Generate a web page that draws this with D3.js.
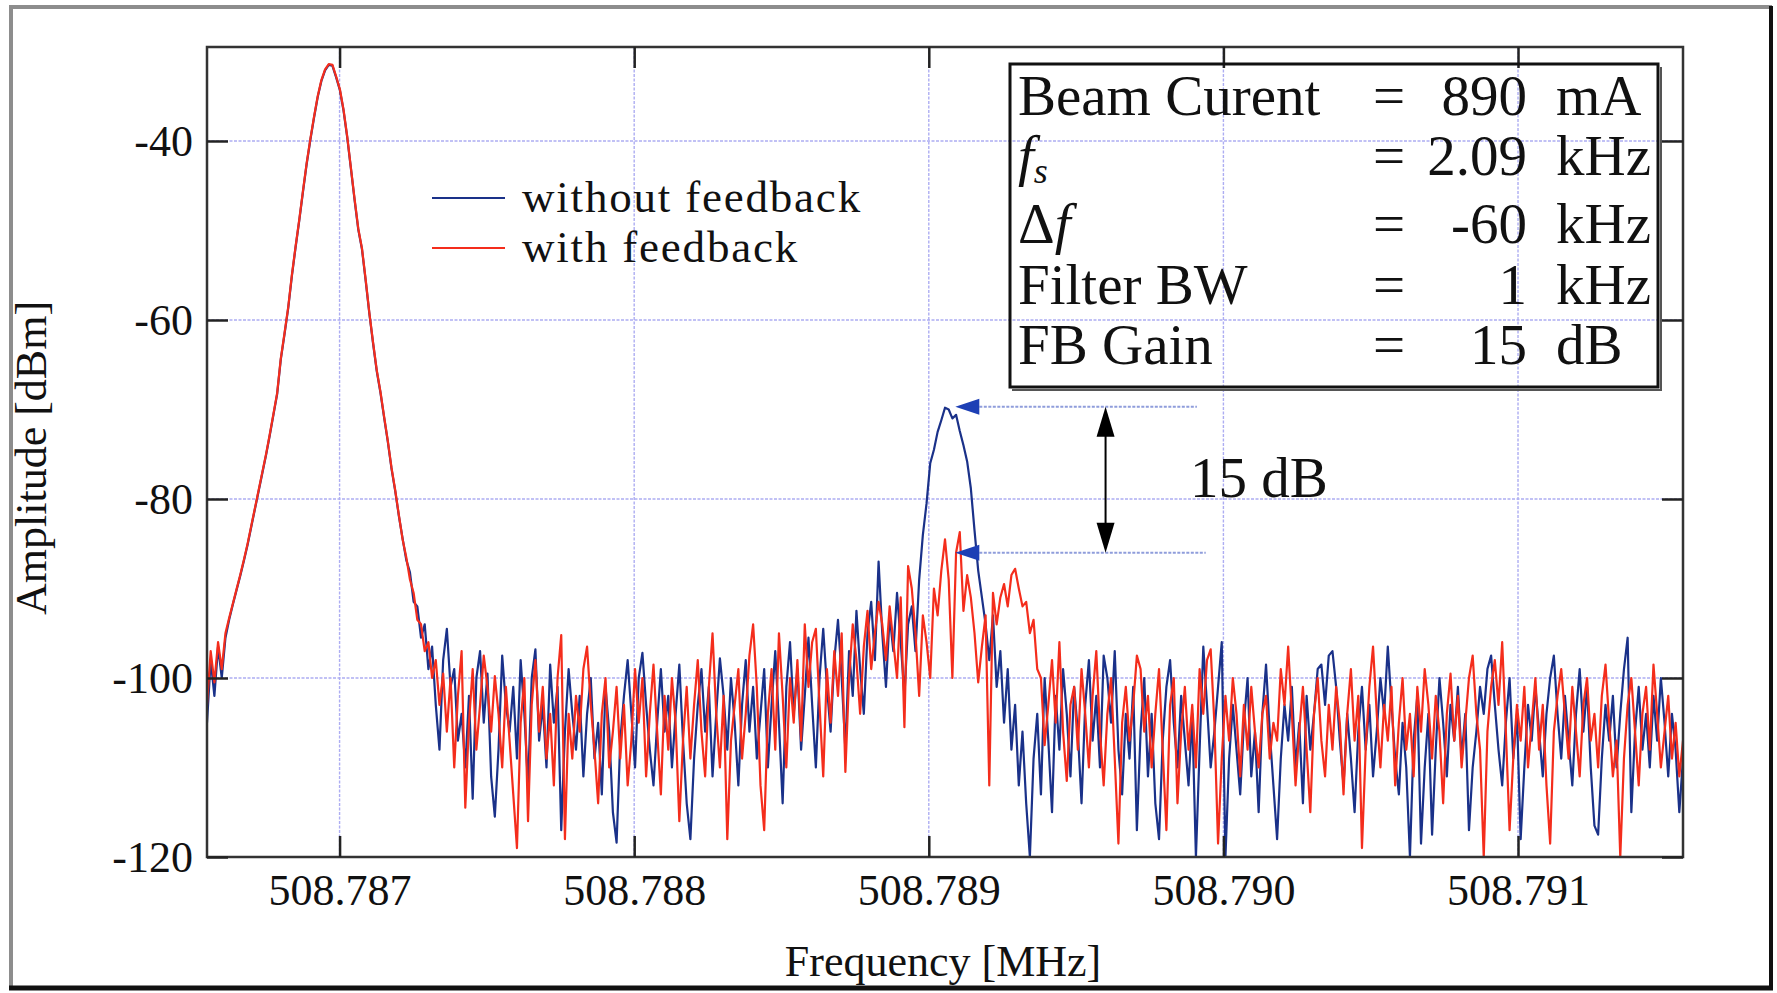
<!DOCTYPE html>
<html>
<head>
<meta charset="utf-8">
<script src="https://cdn.jsdelivr.net/npm/d3@7"></script>
<style>
body { margin: 0; background: #fff; }
svg { display: block; }
text { font-family: "Liberation Serif", "Times New Roman", serif; fill: #111; }
</style>
</head>
<body>
<svg id="graph"></svg>
<script>
const width = 1777;
const height = 993;

// analyser sweep (MHz), 401 points
const sweepStart = 508.78655;
const sweepStop = 508.79156;

const xTicks = [508.787, 508.788, 508.789, 508.790, 508.791];
const xTickLabels = ["508.787", "508.788", "508.789", "508.790", "508.791"];
const yTicks = [-120, -100, -80, -60, -40];
const yTickLabels = ["-120", "-100", "-80", "-60", "-40"];

const seriesNames = ["without feedback", "with feedback"];
const seriesColors = ["#1a3189", "#f42d1c"];

// amplitude [dBm], 10 per row
const withoutFeedback = [
  -105, -98, -102, -96.5, -100, -95.5, -93.5, -91.8, -90.2, -88.6,
  -86.9, -85.1, -83.1, -81.1, -79.1, -77.1, -75.1, -72.9, -70.6, -68.3,
  -64.4, -61.6, -58.7, -55.1, -51.9, -48.9, -45.7, -42.6, -39.9, -37.4,
  -35.1, -33.3, -32.1, -31.5, -31.6, -32.9, -34.3, -36.6, -39.6, -43.1,
  -46.6, -49.9, -52.1, -55.6, -59.3, -62.6, -65.7, -68.1, -70.9, -73.6,
  -76.6, -79.1, -81.9, -84.4, -86.8, -88.2, -91.5, -92.0, -95.5, -94.0,
  -99.0, -96.5, -103, -108, -98, -94.5, -101, -99, -107, -104,
  -110, -102, -113.5, -100, -97, -105, -99.5, -111, -115.5, -108,
  -97.5, -103, -106, -101, -109, -98, -104, -112, -100, -96.8,
  -107, -103, -110, -98.5, -105, -101, -117, -106, -99, -104,
  -108, -102, -111, -104, -100, -109, -105, -113, -101, -106,
  -115, -118.4, -107, -102, -98, -104, -110, -100, -97.2, -103,
  -108, -112, -105, -99, -106, -102, -110, -104, -98.5, -107,
  -114, -118, -109, -103, -99, -106, -101, -111, -104, -97.8,
  -102, -108, -100, -105, -112, -103, -98, -106, -101, -109,
  -104, -99, -110, -103, -97, -105, -114, -101, -96, -104,
  -99, -108, -102, -95.5, -103, -110, -100, -94.5, -101, -106,
  -98, -93.5, -100, -108, -97, -102, -92.5, -99, -104, -95,
  -91.5, -98, -87, -95, -101, -93, -97, -90.5, -96, -102,
  -94, -92, -97, -89, -84, -80.5, -76, -74.5, -72.5, -71.2,
  -69.8, -70.0, -71.0, -70.6, -72.4, -74.0, -75.8, -78.8, -83.5, -88,
  -91, -94, -98, -93, -101, -97, -105, -99, -108, -103,
  -112, -106, -114, -120, -109, -104, -113, -100, -107, -115,
  -102, -108, -99, -104, -111, -101, -106, -114, -103, -98,
  -107, -102, -110, -97.5, -100, -105, -97, -108, -113, -104,
  -109, -101, -117, -106, -100, -111, -104, -114, -118, -107,
  -101, -98, -105, -110, -102, -107, -112, -104, -120, -108,
  -96.5, -103, -110, -106, -101, -96, -120, -109, -103, -108,
  -113, -105, -100, -111, -106, -115, -104, -98.5, -106, -112,
  -118, -109, -103, -107, -101, -110, -105, -114, -102, -108,
  -104, -99, -98.5, -103, -97.5, -97, -101, -107, -112, -104,
  -109, -115, -106, -101, -108, -103, -111, -106, -100, -104,
  -96.5, -103, -109, -113, -105, -110, -120, -107, -102, -118.5,
  -110, -104, -117.5, -108, -100, -105, -111, -103, -107, -101,
  -109, -104, -117, -110, -106, -101, -104, -99, -97.5, -103,
  -108, -112, -105, -100, -109, -104, -118, -110, -103, -107,
  -101, -106, -111, -104, -100, -97.5, -104, -109, -102, -107,
  -112, -104, -99, -106, -101, -110, -116.5, -117.5, -109, -103,
  -107, -102, -110, -104, -99, -95.5, -115, -106, -101, -108,
  -104, -110, -102, -107, -100, -105, -111, -104, -108, -115,
  -109
];

const withFeedback = [
  -103, -97, -100.5, -96, -99, -95, -93.3, -91.7, -90.1, -88.5,
  -86.8, -85, -83, -81, -79, -77, -75, -72.8, -70.5, -68.2,
  -64.3, -61.5, -58.6, -55, -51.8, -48.8, -45.6, -42.5, -39.8, -37.3,
  -35, -33.2, -32, -31.4, -31.5, -32.8, -34.2, -36.5, -39.5, -43,
  -46.5, -49.8, -52, -55.5, -59.2, -62.5, -65.6, -68, -70.8, -73.5,
  -76.5, -79, -81.8, -84.5, -86.5, -89, -90.5, -93.5, -94, -97,
  -96, -100, -98, -103, -99.5, -106, -100, -110, -102, -97,
  -114.5, -105, -99, -108, -103, -97.5, -101, -106, -99.8, -104,
  -110, -101, -107, -113, -119, -105, -100, -116, -103, -98,
  -106, -101, -109, -104, -112, -100, -95.2, -118, -104, -109,
  -102, -106, -99, -96.5, -103, -108, -114, -104, -100, -110,
  -106, -101, -109, -103, -112, -107, -99, -105, -100, -111,
  -104, -98.5, -106, -113, -102, -108, -100, -105, -116, -107,
  -101, -109, -103, -98, -106, -111, -101, -95, -104, -110,
  -102, -118, -107, -103, -99, -109, -104, -97.5, -94, -101,
  -112, -117, -104, -99, -108, -95, -102, -110, -100, -105,
  -98, -107, -94, -101, -96, -94.5, -103, -111, -99, -105,
  -97, -102, -95, -110.5, -100, -94, -98, -104, -96.5, -92.5,
  -99, -95, -91.5, -94, -98, -92, -96, -100, -91, -105.5,
  -87.5, -90, -95, -102, -93, -96, -100, -90, -93, -88,
  -84.5, -89, -100, -86, -83.7, -92.5, -88.5, -91, -95, -100.5,
  -96.5, -93, -112, -90.5, -94, -91, -89.5, -92, -88.5, -87.8,
  -90, -92, -91.5, -95, -93.5, -99, -100, -107.5, -103, -98,
  -105, -96, -106, -111.5, -103, -101, -108, -99, -104, -110,
  -102, -97, -106, -112, -104, -100, -109, -118.5, -105, -101,
  -107, -103, -97.5, -99, -106, -102, -110, -104, -99, -108,
  -117, -103, -100, -114, -106, -101, -108, -103, -110, -99,
  -104, -98, -96.8, -105, -118.5, -109, -102, -107, -100, -104,
  -111, -103, -108, -101, -106, -110, -104, -102, -109, -105,
  -107, -99, -103, -96.5, -104, -112, -106, -101, -108, -115,
  -104, -100, -107, -111, -103, -108, -101, -105, -113, -104,
  -99, -107, -102, -119, -108, -101, -96.5, -104, -110, -103,
  -107, -101, -112, -105, -100, -108, -104, -111, -101, -106,
  -99, -103, -109, -102, -106, -114, -104, -99.5, -107, -102,
  -110, -105, -100, -97.5, -104, -108, -120, -106, -101, -98,
  -103, -96, -106, -117, -109, -103, -107, -101, -110, -105,
  -100, -108, -103, -112, -118.5, -106, -102, -99, -104, -109,
  -101, -106, -111, -103, -100, -107, -104, -110, -102, -98.5,
  -105, -111, -107, -120, -109, -103, -100, -106, -112, -104,
  -101, -108, -98.5, -104, -110, -106, -102, -109, -105, -111,
  -107
];

// parameter box
const infoLabels = ["Beam Curent", "f|s", "Δ|f", "Filter BW", "FB Gain"];
const infoValues = ["890", "2.09", "-60", "1", "15"];
const infoUnits = ["mA", "kHz", "kHz", "kHz", "dB"];

// 15 dB marker: levels read at the two arrow tips
const markerLevels = [-69.7, -86];
const markerTipFreq = 508.78909;
const markerEndFreq = [508.78991, 508.78994];
const markerArrowFreq = 508.78960;
const markerText = "15 dB";

let svg = d3.select('#graph')
        .attr('width', width)
        .attr('height', height)
        .style('background-color', 'white');

const pLeft = 207, pRight = 1683, pTop = 47, pBottom = 857;

let x = d3.scaleLinear().domain([sweepStart, sweepStop]).range([pLeft, pRight]);
let y = d3.scaleLinear().domain([-120, -29.5]).range([pBottom, pTop]);

//////////////// outer frame (grey top/left, dark bottom/right)
svg.append("line").attr("x1", 11).attr("x2", 11).attr("y1", 6).attr("y2", 988)
        .style("stroke", "#8d8d8d").style("stroke-width", 4);
svg.append("line").attr("x1", 9).attr("x2", 1772).attr("y1", 7).attr("y2", 7)
        .style("stroke", "#8d8d8d").style("stroke-width", 4);
svg.append("line").attr("x1", 1771).attr("x2", 1771).attr("y1", 6).attr("y2", 990)
        .style("stroke", "#111").style("stroke-width", 4);
svg.append("line").attr("x1", 9).attr("x2", 1773).attr("y1", 988).attr("y2", 988)
        .style("stroke", "#111").style("stroke-width", 5);

//////////////// grid
let grid = svg.append("g");
grid.selectAll(".vgrid").data(xTicks).enter().append("line")
        .attr("x1", d => x(d)).attr("x2", d => x(d))
        .attr("y1", pTop).attr("y2", pBottom)
        .style("stroke", "#adadf2").style("stroke-width", 1.4)
        .style("stroke-dasharray", "3,1.5");
grid.selectAll(".hgrid").data(yTicks.slice(1)).enter().append("line")
        .attr("x1", pLeft).attr("x2", pRight)
        .attr("y1", d => y(d)).attr("y2", d => y(d))
        .style("stroke", "#adadf2").style("stroke-width", 1.4)
        .style("stroke-dasharray", "3,1.5");

//////////////// traces
svg.append("clipPath").attr("id", "plotclip")
        .append("rect").attr("x", pLeft).attr("y", pTop)
        .attr("width", pRight - pLeft).attr("height", pBottom - pTop);

let sweep = d3.scaleLinear().domain([0, withoutFeedback.length - 1]).range([sweepStart, sweepStop]);

let trace = d3.line()
        .x((d, i) => x(sweep(i)))
        .y(d => y(d));

[withoutFeedback, withFeedback].forEach((s, k) => {
        svg.append("path")
                .datum(s)
                .attr("d", trace)
                .attr("clip-path", "url(#plotclip)")
                .attr("fill", "none")
                .attr("stroke", seriesColors[k])
                .attr("stroke-width", 2.2)
                .attr("stroke-linejoin", "round");
});

//////////////// plot frame + axes
svg.append("rect")
        .attr("x", pLeft).attr("y", pTop)
        .attr("width", pRight - pLeft).attr("height", pBottom - pTop)
        .style("fill", "none").style("stroke", "#333").style("stroke-width", 2.5);

function styleAxis(g) {
        g.select(".domain").remove();
        g.attr("font-size", 44).attr("font-family", '"Liberation Serif", serif');
        g.selectAll(".tick line").attr("stroke", "#222").attr("stroke-width", 2.5);
        g.selectAll(".tick text").attr("fill", "#111");
}

svg.append("g").attr("transform", `translate(0,${pBottom})`)
        .call(d3.axisBottom(x).tickValues(xTicks).tickFormat((d, i) => xTickLabels[i]).tickSize(-21).tickPadding(17))
        .call(styleAxis);
svg.append("g").attr("transform", `translate(0,${pTop})`)
        .call(d3.axisTop(x).tickValues(xTicks).tickFormat("").tickSize(-21))
        .call(styleAxis);
svg.append("g").attr("transform", `translate(${pLeft},0)`)
        .call(d3.axisLeft(y).tickValues(yTicks).tickFormat((d, i) => yTickLabels[i]).tickSize(-21).tickPadding(14))
        .call(styleAxis);
svg.append("g").attr("transform", `translate(${pRight},0)`)
        .call(d3.axisRight(y).tickValues(yTicks).tickFormat("").tickSize(-21))
        .call(styleAxis);

svg.append("text")
        .attr("transform", "translate(46,458) rotate(-90)")
        .attr("text-anchor", "middle")
        .style("font-size", "44px")
        .text("Amplitude [dBm]");
svg.append("text")
        .attr("x", 943).attr("y", 976)
        .attr("text-anchor", "middle")
        .style("font-size", "44px")
        .text("Frequency [MHz]");

//////////////// legend
seriesNames.forEach((name, k) => {
        svg.append("line")
                .attr("x1", 432).attr("x2", 505)
                .attr("y1", 198 + k * 50).attr("y2", 198 + k * 50)
                .style("stroke", seriesColors[k]).style("stroke-width", 2);
        svg.append("text")
                .attr("x", 522).attr("y", 212 + k * 50)
                .style("font-size", "45px")
                .style("letter-spacing", "1.8px")
                .text(name);
});

//////////////// parameter box
svg.append("rect")
        .attr("x", 1010).attr("y", 64)
        .attr("width", 648).attr("height", 323)
        .style("fill", "none").style("stroke", "#111").style("stroke-width", 3);
svg.append("polyline")
        .attr("points", "1012,390 1661,390 1661,67")
        .style("fill", "none").style("stroke", "#555").style("stroke-width", 2);

const rowBase = [115, 175, 243, 304, 364];
infoLabels.forEach((lab, i) => {
        let by = rowBase[i];
        let t = svg.append("text").attr("x", 1018).attr("y", by).style("font-size", "57px");
        let parts = lab.split("|");
        if (lab.startsWith("f|")) {
                t.append("tspan").style("font-style", "italic").text(parts[0]);
                t.append("tspan").attr("dy", 8).style("font-size", "36px").style("font-style", "italic").text(parts[1]);
        } else if (lab.startsWith("Δ|")) {
                t.append("tspan").text(parts[0]);
                t.append("tspan").style("font-style", "italic").text(parts[1]);
        } else {
                t.text(lab);
        }
        svg.append("text").attr("x", 1389).attr("y", by).attr("text-anchor", "middle")
                .style("font-size", "57px").text("=");
        svg.append("text").attr("x", 1527).attr("y", by).attr("text-anchor", "end")
                .style("font-size", "57px").text(infoValues[i]);
        svg.append("text").attr("x", 1556).attr("y", by)
                .style("font-size", "57px").text(infoUnits[i]);
});

//////////////// 15 dB marker
let tipX = x(markerTipFreq);
markerLevels.forEach((lv, k) => {
        let yy = y(lv);
        svg.append("line")
                .attr("x1", tipX + 24).attr("x2", x(markerEndFreq[k]))
                .attr("y1", yy).attr("y2", yy)
                .style("stroke", "#8f9ddb").style("stroke-width", 2)
                .style("stroke-dasharray", "3,1.5");
        svg.append("path")
                .attr("d", `M${tipX},${yy} L${tipX + 24},${yy - 8} L${tipX + 24},${yy + 8} Z`)
                .style("fill", "#1d3fb5");
});

let ax = x(markerArrowFreq);
let y1 = y(markerLevels[0]), y2 = y(markerLevels[1]);
svg.append("line")
        .attr("x1", ax).attr("x2", ax).attr("y1", y1 + 20).attr("y2", y2 - 20)
        .style("stroke", "#000").style("stroke-width", 2);
svg.append("path")
        .attr("d", `M${ax},${y1} L${ax - 9},${y1 + 30} L${ax + 9},${y1 + 30} Z`)
        .style("fill", "#000");
svg.append("path")
        .attr("d", `M${ax},${y2} L${ax - 9},${y2 - 30} L${ax + 9},${y2 - 30} Z`)
        .style("fill", "#000");
svg.append("text")
        .attr("x", 1190).attr("y", 497)
        .style("font-size", "57px")
        .text(markerText);
</script>
</body>
</html>
